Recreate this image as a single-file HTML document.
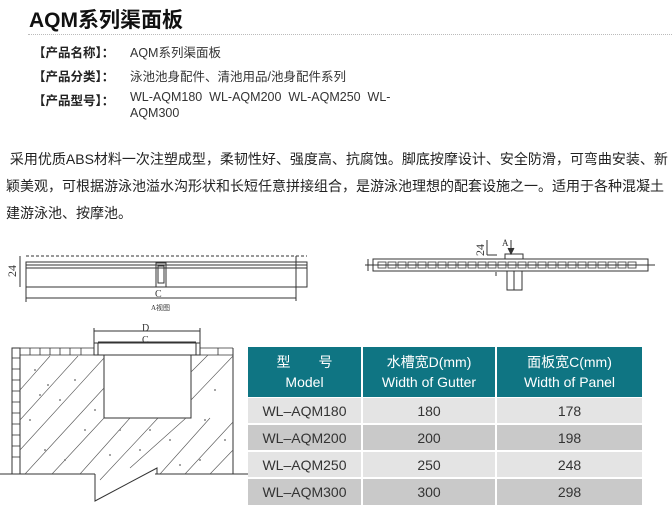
<!DOCTYPE html>
<html><head><meta charset="utf-8"><style>
body{margin:0;width:672px;height:525px;background:#fff;position:relative;overflow:hidden;font-family:"Liberation Sans","Noto Sans CJK SC",sans-serif;color:#222}
.a{position:absolute;white-space:nowrap}
.t{left:29px;top:4px;font-size:21px;font-weight:bold;color:#111}
.dl{position:absolute;left:28px;top:34px;width:644px;border-top:1px dotted #bbb}
.lb{left:33px;font-size:12.5px;font-weight:bold;color:#222}
.v{left:130px;font-size:12.5px;color:#333}
.p{left:6px;font-size:14px;color:#222}
.c{position:absolute;display:flex;align-items:center;justify-content:center;text-align:center;font-size:14px;color:#333}
.h{background:#0f7583;color:#fff;line-height:20px;top:347px;height:50px}
.g1{background:#e4e4e4}.g2{background:#c9c9c9}
</style></head><body>
<div class="a t">AQM系列渠面板</div>
<div class="dl"></div>
<div class="a lb" style="top:42px">【产品名称】：</div><div class="a v" style="top:42px">AQM系列渠面板</div>
<div class="a lb" style="top:66px">【产品分类】：</div><div class="a v" style="top:66px">泳池池身配件、清池用品/池身配件系列</div>
<div class="a lb" style="top:90px">【产品型号】：</div><div class="a v" style="top:90px">WL-AQM180&nbsp; WL-AQM200&nbsp; WL-AQM250&nbsp; WL-</div>
<div class="a v" style="top:106px">AQM300</div>
<div class="a p" style="top:149px">&nbsp;采用优质ABS材料一次注塑成型，柔韧性好、强度高、抗腐蚀。脚底按摩设计、安全防滑，可弯曲安装、新</div>
<div class="a p" style="top:176px">颖美观，可根据游泳池溢水沟形状和长短任意拼接组合，是游泳池理想的配套设施之一。适用于各种混凝土</div>
<div class="a p" style="top:203px">建游泳池、按摩池。</div>

<svg class="a" style="left:0;top:0" width="672" height="525" font-family="Liberation Serif,serif" fill="none" stroke="#333" stroke-width="1">
<line x1="26" y1="256" x2="307" y2="256" stroke-dasharray="3,2"/>
<rect x="26" y="262" width="281" height="25"/>
<line x1="26" y1="265" x2="307" y2="265"/>
<line x1="26" y1="268" x2="307" y2="268"/>
<line x1="296" y1="256" x2="296" y2="301"/>
<line x1="20" y1="256" x2="20" y2="287"/>
<rect x="156" y="263" width="10" height="24"/><rect x="158" y="266" width="6" height="17"/>
<line x1="26" y1="298" x2="296" y2="298"/><line x1="26" y1="287" x2="26" y2="302"/>
<text x="155" y="297" font-size="10" fill="#333" stroke="none">C</text>
<text x="151" y="310" font-size="7" fill="#333" stroke="none">A视图</text>
<text transform="translate(16,277) rotate(-90)" font-size="12" fill="#333" stroke="none">24</text>
<rect x="373" y="259" width="275" height="12"/>
<line x1="365" y1="265" x2="655" y2="265"/>
<line x1="368" y1="259" x2="368" y2="271"/>
<g stroke-width="0.8">
<rect x="378" y="262" width="8" height="6"/><rect x="388" y="262" width="8" height="6"/><rect x="398" y="262" width="8" height="6"/><rect x="408" y="262" width="8" height="6"/><rect x="418" y="262" width="8" height="6"/><rect x="428" y="262" width="8" height="6"/><rect x="438" y="262" width="8" height="6"/><rect x="448" y="262" width="8" height="6"/><rect x="458" y="262" width="8" height="6"/><rect x="468" y="262" width="8" height="6"/><rect x="478" y="262" width="8" height="6"/><rect x="488" y="262" width="8" height="6"/><rect x="498" y="262" width="8" height="6"/><rect x="508" y="262" width="8" height="6"/><rect x="518" y="262" width="8" height="6"/><rect x="528" y="262" width="8" height="6"/><rect x="538" y="262" width="8" height="6"/><rect x="548" y="262" width="8" height="6"/><rect x="558" y="262" width="8" height="6"/><rect x="568" y="262" width="8" height="6"/><rect x="578" y="262" width="8" height="6"/><rect x="588" y="262" width="8" height="6"/><rect x="598" y="262" width="8" height="6"/><rect x="608" y="262" width="8" height="6"/><rect x="618" y="262" width="8" height="6"/><rect x="628" y="262" width="8" height="6"/>
</g>
<rect x="505" y="254" width="18" height="5"/>
<rect x="507" y="271" width="15" height="19"/><line x1="514" y1="271" x2="514" y2="290"/>
<line x1="487" y1="255" x2="497" y2="255"/><line x1="487" y1="240" x2="487" y2="255"/>
<line x1="496" y1="272" x2="496" y2="276"/>
<line x1="511" y1="240" x2="511" y2="253"/><path d="M508,248 L511,254 L514,248" fill="#333"/>
<text x="502" y="246" font-size="9" fill="#333" stroke="none">A</text>
<text transform="translate(484,256) rotate(-90)" font-size="12" fill="#333" stroke="none">24</text>
<line x1="0" y1="474" x2="95" y2="474"/><line x1="155" y1="474" x2="248" y2="474"/>
<rect x="12" y="348" width="8" height="126"/>
<g stroke-width="0.8">
<line x1="12" y1="358" x2="20" y2="358"/><line x1="12" y1="369" x2="20" y2="369"/><line x1="12" y1="380" x2="20" y2="380"/><line x1="12" y1="391" x2="20" y2="391"/><line x1="12" y1="402" x2="20" y2="402"/><line x1="12" y1="413" x2="20" y2="413"/><line x1="12" y1="424" x2="20" y2="424"/><line x1="12" y1="435" x2="20" y2="435"/><line x1="12" y1="446" x2="20" y2="446"/><line x1="12" y1="457" x2="20" y2="457"/>
<line x1="20" y1="348" x2="94" y2="348"/><line x1="20" y1="355" x2="94" y2="355"/>
<line x1="30" y1="348" x2="30" y2="355"/><line x1="40" y1="348" x2="40" y2="355"/><line x1="50" y1="348" x2="50" y2="355"/><line x1="60" y1="348" x2="60" y2="355"/><line x1="70" y1="348" x2="70" y2="355"/><line x1="81" y1="348" x2="81" y2="355"/>
<line x1="200" y1="348" x2="233" y2="348"/><line x1="200" y1="355" x2="233" y2="355"/><line x1="218" y1="348" x2="218" y2="355"/>
</g>
<line x1="233" y1="348" x2="233" y2="474"/>
<rect x="94" y="343" width="106" height="12"/>
<line x1="98" y1="343" x2="98" y2="355"/><line x1="196" y1="343" x2="196" y2="355"/>
<rect x="104" y="355" width="87" height="63"/>
<line x1="94" y1="331" x2="200" y2="331"/><line x1="94" y1="328" x2="94" y2="343"/><line x1="200" y1="328" x2="200" y2="343"/>
<line x1="98" y1="342" x2="196" y2="342"/>
<text x="142" y="331" font-size="10" fill="#333" stroke="none">D</text>
<text x="142" y="343" font-size="10" fill="#333" stroke="none">C</text>
<path d="M95,474 L95,501 L157,468 L157,474"/>
<g stroke-width="0.6" stroke="#555">
<line x1="20" y1="390" x2="50" y2="356"/><line x1="20" y1="420" x2="78" y2="356"/><line x1="20" y1="450" x2="104" y2="358"/><line x1="25" y1="474" x2="104" y2="388"/><line x1="52" y1="474" x2="104" y2="418"/><line x1="80" y1="474" x2="130" y2="418"/><line x1="100" y1="480" x2="158" y2="418"/><line x1="130" y1="468" x2="186" y2="418"/><line x1="160" y1="474" x2="210" y2="418"/><line x1="185" y1="474" x2="233" y2="422"/><line x1="210" y1="474" x2="233" y2="450"/><line x1="191" y1="400" x2="233" y2="356"/><line x1="191" y1="372" x2="208" y2="355"/>
</g>
<g fill="#888" stroke="none">
<circle cx="35" cy="370" r="1"/><circle cx="48" cy="385" r="1"/><circle cx="60" cy="400" r="1"/><circle cx="30" cy="420" r="1"/><circle cx="75" cy="380" r="1"/><circle cx="85" cy="430" r="1"/><circle cx="45" cy="450" r="1"/><circle cx="65" cy="460" r="1"/><circle cx="120" cy="430" r="1"/><circle cx="140" cy="450" r="1"/><circle cx="170" cy="440" r="1"/><circle cx="200" cy="460" r="1"/><circle cx="215" cy="390" r="1"/><circle cx="205" cy="420" r="1"/><circle cx="95" cy="410" r="1"/><circle cx="150" cy="430" r="1"/><circle cx="225" cy="440" r="1"/><circle cx="180" cy="465" r="1"/><circle cx="110" cy="455" r="1"/><circle cx="40" cy="395" r="1"/>
</g>
</svg>

<div class="c h" style="left:248px;width:113px">型　　号<br>Model</div>
<div class="c h" style="left:363px;width:132px">水槽宽D(mm)<br>Width of Gutter</div>
<div class="c h" style="left:497px;width:145px">面板宽C(mm)<br>Width of Panel</div>

<div class="c g1" style="left:248px;top:398px;width:113px;height:25px">WL–AQM180</div>
<div class="c g1" style="left:363px;top:398px;width:132px;height:25px">180</div>
<div class="c g1" style="left:497px;top:398px;width:145px;height:25px">178</div>
<div class="c g2" style="left:248px;top:425px;width:113px;height:25px">WL–AQM200</div>
<div class="c g2" style="left:363px;top:425px;width:132px;height:25px">200</div>
<div class="c g2" style="left:497px;top:425px;width:145px;height:25px">198</div>
<div class="c g1" style="left:248px;top:452px;width:113px;height:25px">WL–AQM250</div>
<div class="c g1" style="left:363px;top:452px;width:132px;height:25px">250</div>
<div class="c g1" style="left:497px;top:452px;width:145px;height:25px">248</div>
<div class="c g2" style="left:248px;top:479px;width:113px;height:26px">WL–AQM300</div>
<div class="c g2" style="left:363px;top:479px;width:132px;height:26px">300</div>
<div class="c g2" style="left:497px;top:479px;width:145px;height:26px">298</div>
</body></html>
